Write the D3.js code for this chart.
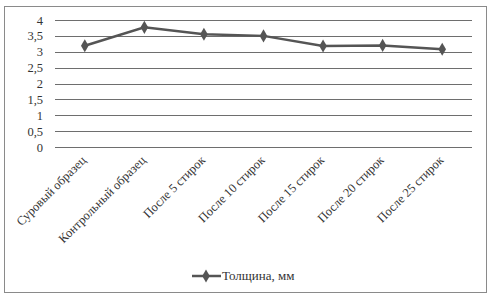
<!DOCTYPE html>
<html><head><meta charset="utf-8">
<script src="https://cdn.jsdelivr.net/npm/d3@7"></script>
<style>body{margin:0;background:#fff}svg{display:block}</style>
</head><body>
<script>
const categories = ["Суровый образец","Контрольный образец","После 5 стирок","После 10 стирок","После 15 стирок","После 20 стирок","После 25 стирок"];
const values = [3.19, 3.77, 3.55, 3.50, 3.18, 3.20, 3.08];
const yTicks = [0,0.5,1,1.5,2,2.5,3,3.5,4];
const yTickLabels = ["0","0,5","1","1,5","2","2,5","3","3,5","4"];
const seriesName = "Толщина, мм";

const W=490,H=298;
const svg=d3.select("body").append("svg").attr("width",W).attr("height",H);
svg.append("rect").attr("x",4.5).attr("y",6.5).attr("width",482).attr("height",286).attr("fill","#fff").attr("stroke","#8a8a8a").attr("stroke-width",1);

const x=d3.scaleBand().domain(categories).range([55,472]);
const y=d3.scaleLinear().domain([0,4]).range([147,20]);
const font="'Liberation Serif','Times New Roman',serif";

const g=svg.append("g");
g.selectAll("line.grid").data(yTicks).enter().append("line")
 .attr("x1",55).attr("x2",472).attr("y1",d=>Math.round(y(d))+0.5).attr("y2",d=>Math.round(y(d))+0.5)
 .attr("stroke","#6e6e6e").attr("stroke-width",1);
g.selectAll("text.yt").data(yTicks).enter().append("text")
 .attr("x",43).attr("y",d=>y(d)+4.5).attr("text-anchor","end")
 .attr("font-family",font).attr("font-size",12.5).attr("fill","#333")
 .text((d,i)=>yTickLabels[i]);

g.selectAll("text.xt").data(categories).enter().append("text")
 .attr("transform",d=>`translate(${x(d)+x.bandwidth()/2+2},${161}) rotate(-45)`)
 .attr("text-anchor","end").attr("font-family",font).attr("font-size",12.5).attr("fill","#333")
 .text(d=>d);

const line=d3.line().x((d,i)=>x(categories[i])+x.bandwidth()/2).y(d=>y(d));
g.append("path").datum(values).attr("d",line).attr("fill","none").attr("stroke","#555").attr("stroke-width",2.5);
const diamond=d3.symbol().type(d3.symbolDiamond).size(50);
g.selectAll("path.pt").data(values).enter().append("path")
 .attr("d",diamond).attr("transform",(d,i)=>`translate(${x(categories[i])+x.bandwidth()/2},${y(d)})`)
 .attr("fill","#555");

const lg=svg.append("g");
lg.append("line").attr("x1",192).attr("x2",221).attr("y1",276).attr("y2",276).attr("stroke","#555").attr("stroke-width",2.5);
lg.append("path").attr("d",diamond).attr("transform","translate(206,276)").attr("fill","#555");
lg.append("text").attr("x",222).attr("y",280).attr("font-family",font).attr("font-size",13).attr("fill","#333").text(seriesName);
</script>
</body></html>
